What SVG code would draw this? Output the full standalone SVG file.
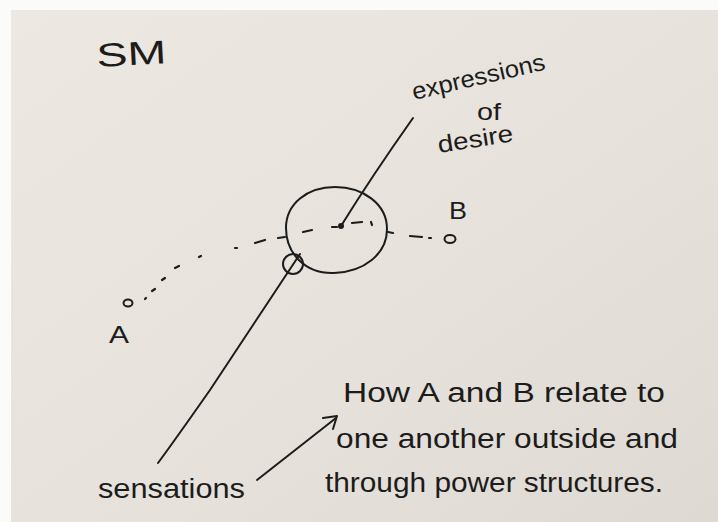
<svg xmlns="http://www.w3.org/2000/svg" width="718" height="522" viewBox="0 0 718 522">
  <defs>
    <linearGradient id="paper" x1="0" y1="0" x2="1" y2="1">
      <stop offset="0" stop-color="#ede9e2"/>
      <stop offset="0.6" stop-color="#e6e2db"/>
      <stop offset="1" stop-color="#dedad3"/>
    </linearGradient>
  </defs>
  <style>
    .ink { fill: none; stroke: #1c1c1c; stroke-width: 2; stroke-linecap: round; stroke-linejoin: round; }
    .dash { fill: none; stroke: #1c1c1c; stroke-width: 2.2; stroke-linecap: round; }
    .hand { font-family: "Liberation Sans", "DejaVu Sans", sans-serif; fill: #1c1c1c; }
    .big { font-size: 27px; }
    .mid { font-size: 24px; }
    .sm { font-size: 23px; }
  </style>

  <rect x="0" y="0" width="718" height="522" fill="#fbfbfa"/>
  <rect x="11" y="10" width="707" height="512" fill="url(#paper)"/>

  <g id="title">
    <text class="hand" font-size="33" x="97" y="67" textLength="70" lengthAdjust="spacingAndGlyphs" transform="rotate(-3 97 67)" fill="#2a2a2a">SM</text>
  </g>

  <g id="connectors">
    <!-- dotted/dashed path from A to B through the centre -->
    <path class="dash" d="M145 299 L146 298"/>
    <path class="dash" d="M152 291 L155 289"/>
    <path class="dash" d="M162 280 L165 278"/>
    <path class="dash" d="M175 268 L179 266"/>
    <path class="dash" d="M199 257 L201 256"/>
    <path class="dash" d="M235 248 L237 248"/>
    <path class="dash" d="M255 243 L265 240"/>
    <path class="dash" d="M278 238 L285 237"/>
    <path class="dash" d="M303 232 L312 230"/>
    <path class="dash" d="M332 227 L337 227"/>
    <path class="dash" d="M352 223 L362 222"/>
    <path class="dash" d="M371 222 L372 225"/>
    <path class="dash" d="M388 232 L393 233"/>
    <path class="dash" d="M410 236 L422 237"/>
    <path class="dash" d="M429 238 L431 238"/>
    <!-- line from centre to "expressions of desire" -->
    <path class="ink" d="M341 226 Q 372 176 413 118"/>
    <!-- line from small circle to "sensations" -->
    <path class="ink" d="M300 254 Q 250 330 210 390 Q 175 440 158 463"/>
    <!-- arrow from sensations to the text block -->
    <path class="ink" d="M257 480 L336 418"/>
    <path class="ink" d="M323 418 L337 416 L333 429"/>
  </g>

  <g id="circle">
    <path class="ink" d="M335 187 C 363 187 387 204 387 229 C 387 254 364 272 334 273 C 305 274 286 253 286 228 C 286 204 307 187 335 187 Z"/>
    <circle cx="341" cy="226" r="3" fill="#1c1c1c"/>
  </g>

  <g id="small-circle">
    <ellipse class="ink" cx="293" cy="264" rx="10" ry="10"/>
  </g>

  <g id="point-A">
    <ellipse class="ink" cx="128" cy="303" rx="4.5" ry="3.5"/>
    <text class="hand sm" x="109" y="343" textLength="20" lengthAdjust="spacingAndGlyphs">A</text>
  </g>

  <g id="point-B">
    <ellipse class="ink" cx="450" cy="239" rx="5.5" ry="4"/>
    <text class="hand sm" x="449" y="219" textLength="18" lengthAdjust="spacingAndGlyphs">B</text>
  </g>

  <g id="expressions-of-desire">
    <text class="hand mid" x="414" y="100" textLength="136" lengthAdjust="spacingAndGlyphs" transform="rotate(-13 414 100)">expressions</text>
    <text class="hand mid" x="477" y="120" textLength="24" lengthAdjust="spacingAndGlyphs">of</text>
    <text class="hand mid" x="439" y="153" textLength="76" lengthAdjust="spacingAndGlyphs" transform="rotate(-9 439 153)">desire</text>
  </g>

  <g id="sensations">
    <text class="hand big" x="98" y="498" textLength="147" lengthAdjust="spacingAndGlyphs">sensations</text>
  </g>

  <g id="relation-note">
    <text class="hand big" x="343" y="402" textLength="322" lengthAdjust="spacingAndGlyphs">How A and B relate to</text>
    <text class="hand big" x="336" y="448" textLength="342" lengthAdjust="spacingAndGlyphs">one another outside and</text>
    <text class="hand big" x="325" y="492" textLength="338" lengthAdjust="spacingAndGlyphs">through power structures.</text>
  </g>
</svg>
